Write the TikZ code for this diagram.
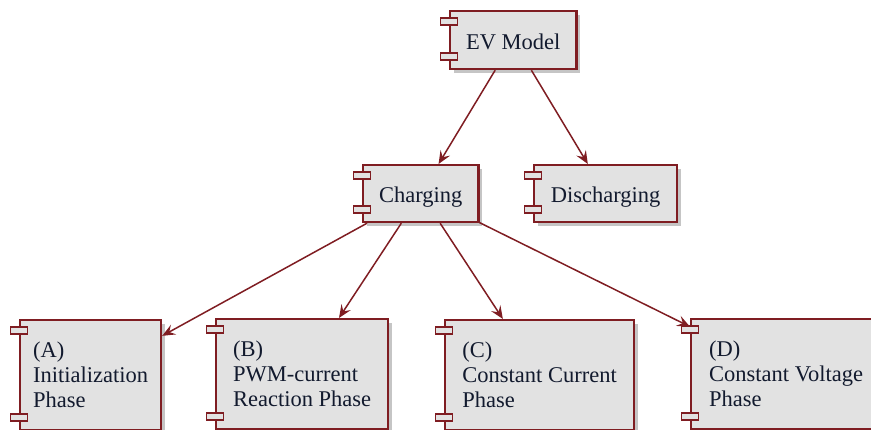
\documentclass[tikz,border=0pt]{standalone}
\usepackage{fontspec}
\setmainfont{Liberation Serif}
\usepackage{tikz}
\usetikzlibrary{arrows.meta,shadows}
\definecolor{umlred}{HTML}{7F1D22}
\definecolor{umlgray}{HTML}{E2E2E2}
\definecolor{umltext}{HTML}{121A2E}

\begin{document}
\begin{tikzpicture}[x=1pt,y=-1pt,
  comp/.style={draw=umlred,line width=2.2pt,fill=umlgray,text=umltext,anchor=north west,
    inner xsep=16pt,font=\fontsize{22.5}{25}\selectfont,
    drop shadow={shadow xshift=4pt,shadow yshift=-4pt,fill=black!45}},
  single/.style={comp,text height=30pt,text depth=12pt,inner ysep=2pt},
  phase/.style={comp,minimum height=110pt,inner xsep=13pt,align=left},
  port/.style={draw=umlred,line width=1.7pt,fill=umlgray},
  link/.style={umlred,line width=1.5pt,-{Stealth[length=13pt,width=11pt,inset=5pt]}}]
\useasboundingbox (0,0) rectangle (871,430);
\clip (0,0) rectangle (871,430);
% components
\node[single,minimum width=124pt,minimum height=58pt] (ev) at (449,10) {EV Model};
\node[single,minimum width=115pt,minimum height=57pt] (charging) at (362,164) {Charging};
\node[single,minimum width=143pt,minimum height=57pt] (discharging) at (533,164) {Discharging};
\node[phase,minimum width=141pt] (phaseA) at (19,319) {(A)\\Initialization\\Phase};
\node[phase,minimum width=172pt] (phaseB) at (215,318) {(B)\\PWM-current\\Reaction Phase};
\node[phase,minimum width=189pt] (phaseC) at (444,319) {(C)\\Constant Current\\Phase};
\node[phase,minimum width=190pt] (phaseD) at (690,318) {(D)\\Constant Voltage\\Phase};
% little port boxes on the left side
\foreach \n in {ev,charging,discharging,phaseA,phaseB,phaseC,phaseD} {
  \draw[port] ([xshift=-8.5pt,yshift=-8pt]\n.north west) rectangle ++(17,7);
  \draw[port] ([xshift=-8.5pt,yshift=10pt]\n.south west) rectangle ++(17,-7);
}
% arrows
\draw[link] (ev) -- (charging);
\draw[link] (ev) -- (discharging);
\foreach \p in {phaseA,phaseB,phaseC,phaseD}
  \draw[link] (charging) -- (\p);
\end{tikzpicture}
\end{document}
